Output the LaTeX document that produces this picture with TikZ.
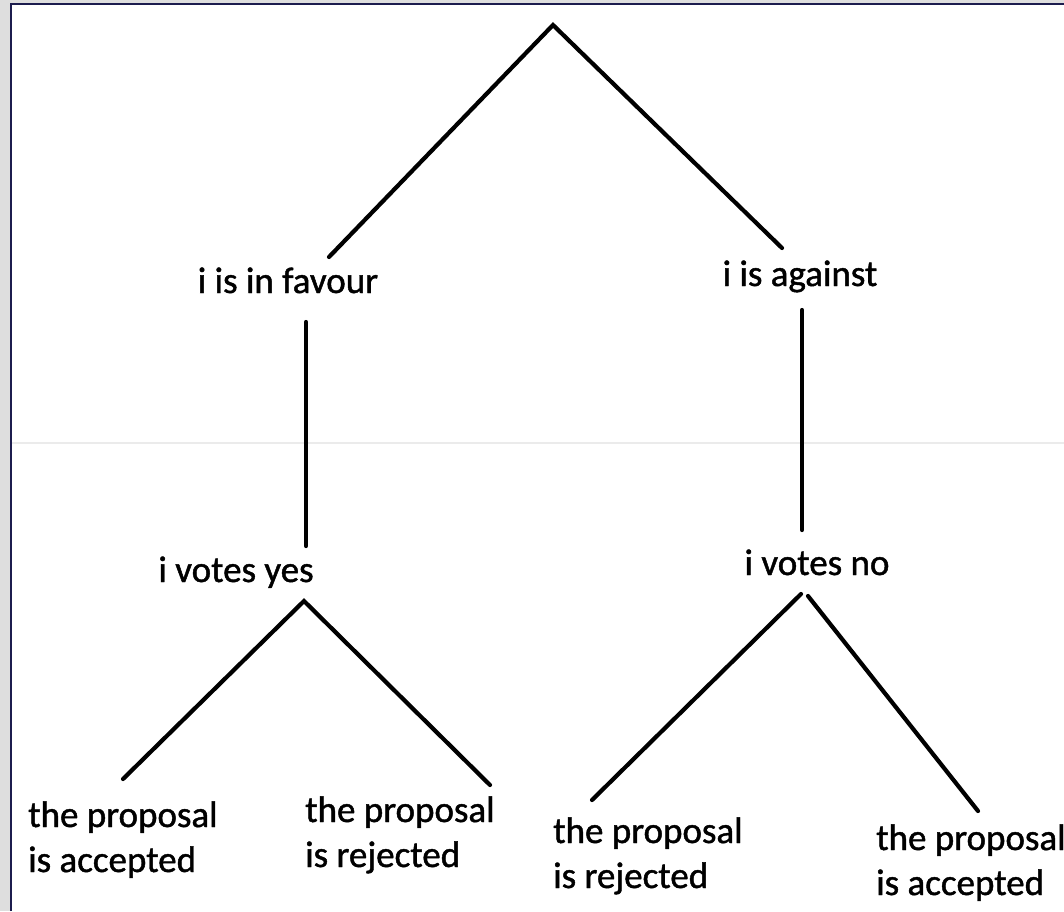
\documentclass[tikz,border=0pt]{standalone}
\usepackage{fontspec}
\setmainfont{Carlito}
\newfontfamily\lblfont{Carlito}[FakeBold=1.2]
\definecolor{framecol}{HTML}{1C1C4E}
\definecolor{outside}{HTML}{DEDEDE}
\begin{document}
\begin{tikzpicture}[x=1pt,y=-1pt,
  lbl/.style={font=\lblfont\fontsize{37}{45}\selectfont, inner sep=0pt, text=black},
  leaf/.style={lbl, align=left, anchor=base west},
  branch/.style={line width=4.2pt, line cap=round}]
\useasboundingbox (0,0) rectangle (1064,911);
% canvas and frame
\fill[outside] (0,0) rectangle (1064,911);
\fill[white] (11,4) rectangle (1064,911);
\draw[framecol, line width=2.5pt] (11,911) -- (11,4) -- (1064,4);
\draw[black!8, line width=1.5pt] (12,443) -- (1064,443);

% labels (base anchor of a two-line leaf is its last line)
\node[lbl, anchor=base] (favour)  at (288,293) {i is in favour};
\node[lbl, anchor=base] (against) at (800,286) {i is against};
\node[lbl, anchor=base] (yes)     at (236,582) {i votes yes};
\node[lbl, anchor=base] (no)      at (817,575) {i votes no};
\node[leaf] (acc1) at (28,872)  {the proposal\\is accepted};
\node[leaf] (rej1) at (305,867) {the proposal\\is rejected};
\node[leaf] (rej2) at (553,888) {the proposal\\is rejected};
\node[leaf] (acc2) at (876,895) {the proposal\\is accepted};

% branch end points
\coordinate (root)   at (553,25);
\coordinate (favA)   at (329,257);
\coordinate (agA)    at (782,248);
\coordinate (favB)   at (306,322);
\coordinate (favC)   at (306,546);
\coordinate (agB)    at (802,310);
\coordinate (agC)    at (802,530);
\coordinate (yesTop) at (304,601);
\coordinate (yesL)   at (123,779);
\coordinate (yesR)   at (490,785);
\coordinate (noTopL) at (801,594);
\coordinate (noTopR) at (808,596);
\coordinate (noL)    at (592,800);
\coordinate (noR)    at (978,811);

% branches
\draw[branch] (favA) -- (root) -- (agA);
\draw[branch] (favB) -- (favC);
\draw[branch] (agB) -- (agC);
\draw[branch] (yesL) -- (yesTop) -- (yesR);
\draw[branch] (noTopL) -- (noL);
\draw[branch] (noTopR) -- (noR);
\end{tikzpicture}
\end{document}
